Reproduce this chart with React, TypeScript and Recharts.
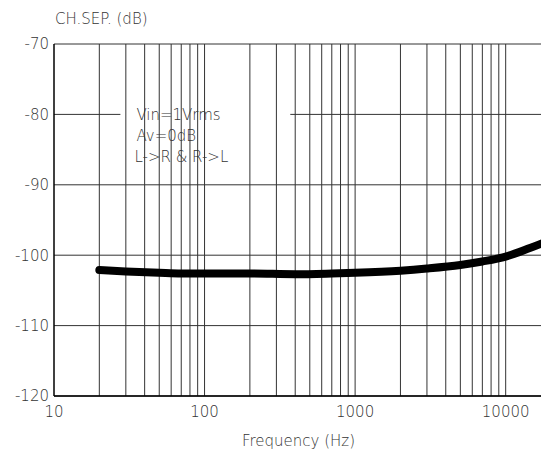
import React from "react";
import {
  CartesianGrid,
  Line,
  LineChart,
  ReferenceArea,
  ReferenceLine,
  XAxis,
  YAxis,
} from "recharts";

const freqs = [20, 30, 50, 70, 100, 200, 400, 700, 1000, 2000, 3000, 5000, 7000, 10000, 14000, 20000];
const chSep = [-102.1, -102.3, -102.5, -102.6, -102.6, -102.6, -102.7, -102.6, -102.5, -102.2, -101.9, -101.4, -100.9, -100.2, -99.1, -97.8];

const xTicks = [10, 100, 1000, 10000];
const yTicks = [-120, -110, -100, -90, -80, -70];
const gridFreqs = [
  20, 30, 40, 50, 60, 70, 80, 90, 100,
  200, 300, 400, 500, 600, 700, 800, 900, 1000,
  2000, 3000, 4000, 5000, 6000, 7000, 8000, 9000, 10000, 20000,
];
const noteLines = ["Vin=1Vrms", "Av=0dB", "L->R & R->L"];

const data = freqs.map((f, i) => ({ f, v: chSep[i] }));

const FONT = "'DejaVu Sans', sans-serif";
const TEXT = "#333";
const W = 200;
const GRID = "#333";

export default function App() {
  return (
    <div
      style={{
        position: "absolute",
        left: 0,
        top: 0,
        width: 541,
        height: 453,
        overflow: "hidden",
        background: "#fff",
      }}
    >
      <LineChart
        width={610}
        height={453}
        data={data}
        margin={{ top: 44, right: 59, left: 0, bottom: 27 }}
      >
        <CartesianGrid vertical={false} stroke={GRID} strokeOpacity={1} />
        {gridFreqs.map((g) => (
          <ReferenceLine key={g} x={g} stroke={GRID} strokeWidth={1} ifOverflow="hidden" />
        ))}
        <ReferenceArea
          x1={27.6}
          x2={371}
          y1={-88.3}
          y2={-77.5}
          fill="#fff"
          fillOpacity={1}
          stroke="none"
          label={({ viewBox }: any) => (
            <text fontFamily={FONT} fontWeight={W} fontSize={15} fill={TEXT}>
              {noteLines.map((t, i) => (
                <tspan key={t} x={viewBox.x + (i === 2 ? 14 : 16)} y={viewBox.y + 23 + i * 21}>
                  {t}
                </tspan>
              ))}
            </text>
          )}
        />
        <XAxis
          dataKey="f"
          type="number"
          scale="log"
          domain={[10, 20000]}
          ticks={xTicks}
          allowDataOverflow
          height={30}
          tickSize={0}
          tickMargin={10}
          axisLine={{ stroke: "#000", strokeWidth: 1.5 }}
          tick={{ fontFamily: FONT, fontWeight: W, fontSize: 15, fill: TEXT }}
          label={{
            value: "Frequency (Hz)",
            position: "insideBottom",
            offset: -20,
            dx: -4,
            style: { fontFamily: FONT, fontWeight: W, fontSize: 15, fill: TEXT },
          }}
        />
        <YAxis
          type="number"
          domain={[-120, -70]}
          ticks={yTicks}
          width={54}
          tickSize={0}
          tickMargin={5}
          axisLine={{ stroke: "#000", strokeWidth: 1.5 }}
          tick={{ fontFamily: FONT, fontWeight: W, fontSize: 15, fill: TEXT }}
          label={({ viewBox }: any) => (
            <text
              x={viewBox.x + viewBox.width + 1}
              y={viewBox.y - 20}
              fontFamily={FONT}
              fontWeight={W}
              fontSize={15}
              fill={TEXT}
            >
              CH.SEP. (dB)
            </text>
          )}
        />
        <Line
          dataKey="v"
          type="monotone"
          stroke="#000"
          strokeWidth={8}
          strokeLinecap="round"
          dot={false}
          activeDot={false}
          isAnimationActive={false}
        />
      </LineChart>
    </div>
  );
}
